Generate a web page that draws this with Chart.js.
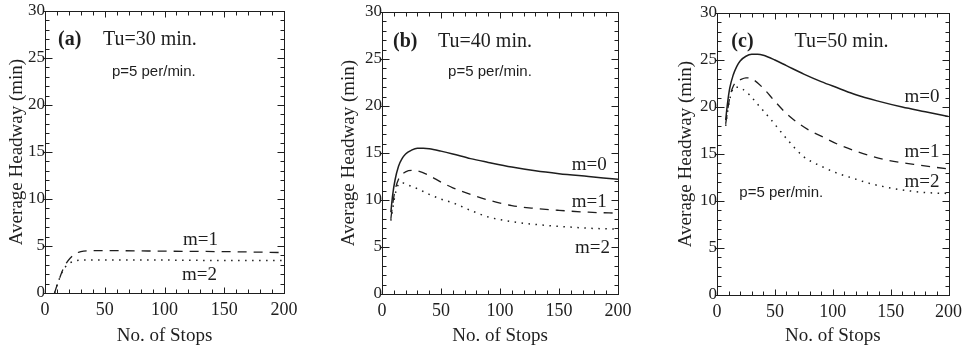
<!DOCTYPE html>
<html>
<head>
<meta charset="UTF-8">
<title>Average Headway vs No. of Stops</title>
<script src="https://cdn.jsdelivr.net/npm/chart.js"></script>
<style>
  body { margin: 0; background: #fff; }
  #wrap { position: relative; width: 968px; height: 351px; }
  #wrap canvas { position: absolute; left: 0; top: 0; }
</style>
</head>
<body>
<div id="wrap">
  <canvas id="chartA" width="968" height="351"></canvas>
  <canvas id="chartB" width="968" height="351"></canvas>
  <canvas id="chartC" width="968" height="351"></canvas>
</div>

<script>
  // ---- data ----
  const panelTags = ['(a)', '(b)', '(c)'];
  const panelTitles = ['Tu=30 min.', 'Tu=40 min.', 'Tu=50 min.'];
  const rateNote = 'p=5 per/min.';
  const seriesNames = ['m=0', 'm=1', 'm=2'];
  const xTicks = [0, 50, 100, 150, 200];
  const yTicks = [0, 5, 10, 15, 20, 25, 30];

  // (a) Tu=30 min.  (no m=0 curve)
  const stopsA_m1 = [8, 10, 12, 15, 18, 21, 25, 30, 40, 60, 100, 150, 200];
  const headA_m1  = [0, 0.8, 1.5, 2.5, 3.2, 3.7, 4.15, 4.4, 4.5, 4.5, 4.45, 4.4, 4.3];
  const stopsA_m2 = [8, 10, 12, 15, 18, 21, 25, 30, 40, 60, 100, 150, 200];
  const headA_m2  = [0, 0.8, 1.5, 2.4, 2.9, 3.2, 3.4, 3.5, 3.5, 3.5, 3.5, 3.45, 3.45];

  // (b) Tu=40 min.
  const stopsB_m0 = [7.5, 9, 11, 14, 17, 20, 25, 30, 35, 40, 50, 60, 75, 90, 110, 130, 150, 175, 200];
  const headB_m0  = [8.7, 10.5, 12.1, 13.6, 14.4, 14.9, 15.3, 15.5, 15.5, 15.45, 15.2, 14.9, 14.4, 14.0, 13.5, 13.1, 12.8, 12.5, 12.2];
  const stopsB_m1 = [7.5, 9, 11, 14, 17, 20, 25, 30, 40, 50, 60, 75, 90, 110, 130, 150, 175, 200];
  const headB_m1  = [8.0, 9.5, 11.0, 12.2, 12.7, 13.0, 13.15, 13.1, 12.6, 11.9, 11.3, 10.6, 10.0, 9.4, 9.1, 8.9, 8.7, 8.6];
  const stopsB_m2 = [7.5, 9, 11, 13, 15, 18, 22, 30, 40, 50, 60, 75, 90, 110, 130, 150, 175, 200];
  const headB_m2  = [7.8, 9.0, 10.5, 11.4, 11.8, 11.8, 11.6, 11.2, 10.6, 10.1, 9.7, 8.9, 8.2, 7.7, 7.4, 7.2, 7.0, 6.9];

  // (c) Tu=50 min.
  const stopsC_m0 = [7.5, 9, 11, 14, 17, 20, 25, 30, 35, 40, 50, 60, 75, 90, 105, 120, 140, 160, 180, 200];
  const headC_m0  = [18.6, 20.3, 22.0, 23.4, 24.3, 24.9, 25.4, 25.6, 25.6, 25.5, 25.0, 24.4, 23.5, 22.7, 22.0, 21.3, 20.6, 20.0, 19.5, 19.0];
  const stopsC_m1 = [7.5, 9, 11, 14, 17, 20, 25, 30, 40, 50, 60, 70, 80, 90, 105, 120, 145, 170, 200];
  const headC_m1  = [18.2, 19.5, 21.0, 22.2, 22.7, 22.9, 23.1, 23.0, 22.0, 20.6, 19.3, 18.3, 17.5, 16.9, 16.0, 15.3, 14.4, 13.9, 13.4];
  const stopsC_m2 = [7.5, 9, 11, 13, 15, 18, 22, 28, 35, 47, 61, 75, 90, 103, 118, 131, 145, 159, 180, 200];
  const headC_m2  = [18.0, 19.4, 20.8, 21.7, 22.1, 22.1, 21.9, 21.3, 20.3, 18.6, 16.5, 14.7, 13.7, 13.0, 12.4, 11.9, 11.5, 11.2, 10.9, 10.8];

  // ---- styling ----
  const INK = '#1e1e1e';
  const SERIF = "'Liberation Serif', 'Times New Roman', serif";
  const SANS = "'Liberation Sans', Arial, sans-serif";
  const lineStyles = [
    { borderDash: [], borderWidth: 1.5 },      // m=0 solid
    { borderDash: [9, 7], borderWidth: 1.3 },  // m=1 dashed
    { borderDash: [1.5, 5.5], borderWidth: 1.5 } // m=2 dotted
  ];

  const toPoints = (xs, ys) => xs.map((x, i) => ({ x: x, y: ys[i] }));

  // box + inward major/minor ticks on all four sides
  const frameTicks = {
    id: 'frameTicks',
    afterDatasetsDraw(chart) {
      const { ctx, chartArea: a, scales: { x, y } } = chart;
      const L = Math.round(a.left) + 0.5, R = Math.round(a.right) + 0.5;
      const T = Math.round(a.top) + 0.5, B = Math.round(a.bottom) + 0.5;
      ctx.save();
      ctx.strokeStyle = INK;
      ctx.lineWidth = 1;
      ctx.strokeRect(L, T, R - L, B - T);
      ctx.beginPath();
      for (let v = 0; v <= 200; v += 10) {
        const px = Math.round(x.getPixelForValue(v)) + 0.5;
        const len = v % 50 === 0 ? 6 : 4;
        ctx.moveTo(px, B); ctx.lineTo(px, B - len);
        ctx.moveTo(px, T); ctx.lineTo(px, T + len);
      }
      for (let v = 0; v <= 30; v += 1) {
        const py = Math.round(y.getPixelForValue(v)) + 0.5;
        const len = v % 5 === 0 ? 7 : 4;
        ctx.moveTo(L - (v % 5 === 0 ? 2 : 0), py); ctx.lineTo(L + len, py);
        ctx.moveTo(R, py); ctx.lineTo(R - len, py);
      }
      ctx.stroke();
      ctx.restore();
    }
  };

  // text notes placed in data coordinates
  const notes = {
    id: 'notes',
    afterDraw(chart, args, opts) {
      const { ctx, scales: { x, y } } = chart;
      ctx.save();
      ctx.fillStyle = INK;
      ctx.textAlign = 'left';
      ctx.textBaseline = 'middle';
      (opts.items || []).forEach(n => {
        ctx.font = n.font;
        ctx.fillText(n.text, x.getPixelForValue(n.x), y.getPixelForValue(n.y));
      });
      ctx.restore();
    }
  };

  function makePanel(id, p) {
    const padLeft = p.yTitleX - 11;
    new Chart(document.getElementById(id), {
      type: 'line',
      data: {
        datasets: p.series.map(s => Object.assign({
          label: seriesNames[s.m],
          data: toPoints(s.xs, s.ys),
          borderColor: INK,
          pointRadius: 0,
          fill: false,
          tension: 0.4,
          cubicInterpolationMode: 'monotone'
        }, lineStyles[s.m]))
      },
      options: {
        responsive: false,
        animation: false,
        events: [],
        layout: { padding: { left: padLeft, right: 968 - p.area.right, top: p.area.top, bottom: 0 } },
        plugins: {
          legend: { display: false },
          tooltip: { enabled: false },
          notes: { items: p.notes }
        },
        scales: {
          x: {
            type: 'linear', min: 0, max: 200,
            afterBuildTicks: s => { s.ticks = xTicks.map(v => ({ value: v })); },
            afterFit: s => { s.height = 351 - p.area.bottom; },
            grid: { display: false, drawTicks: false },
            border: { display: false },
            ticks: { color: INK, padding: 6, maxRotation: 0, font: { family: SERIF, size: 18 } },
            title: { display: true, text: 'No. of Stops', color: INK,
                     font: { family: SERIF, size: 19 }, padding: { top: 0, bottom: 4 } }
          },
          y: {
            min: 0, max: 30,
            afterBuildTicks: s => { s.ticks = yTicks.map(v => ({ value: v })); },
            afterFit: s => { s.width = p.area.left - padLeft; },
            grid: { display: false, drawTicks: false },
            border: { display: false },
            ticks: { color: INK, padding: 0, font: { family: SERIF, size: 17 } },
            title: { display: true, text: 'Average Headway (min)', color: INK,
                     font: { family: SERIF, size: 19 }, padding: 0 }
          }
        }
      },
      plugins: [frameTicks, notes]
    });
  }

  const tagFont = 'bold 20px ' + SERIF;
  const titleFont = '20px ' + SERIF;
  const noteFont = '15px ' + SANS;
  const mFont = '19px ' + SERIF;

  makePanel('chartA', {
    area: { left: 45, right: 284, top: 11, bottom: 293 },
    yTitleX: 17,
    series: [
      { m: 1, xs: stopsA_m1, ys: headA_m1 },
      { m: 2, xs: stopsA_m2, ys: headA_m2 }
    ],
    notes: [
      { text: panelTags[0], x: 10.9, y: 26.9, font: tagFont },
      { text: panelTitles[0], x: 48.5, y: 26.9, font: titleFont },
      { text: rateNote, x: 56, y: 23.5, font: noteFont },
      { text: seriesNames[1], x: 115.5, y: 5.6, font: mFont },
      { text: seriesNames[2], x: 114.6, y: 1.9, font: mFont }
    ]
  });

  makePanel('chartB', {
    area: { left: 382, right: 618, top: 12, bottom: 294 },
    yTitleX: 349,
    series: [
      { m: 0, xs: stopsB_m0, ys: headB_m0 },
      { m: 1, xs: stopsB_m1, ys: headB_m1 },
      { m: 2, xs: stopsB_m2, ys: headB_m2 }
    ],
    notes: [
      { text: panelTags[1], x: 9.3, y: 26.8, font: tagFont },
      { text: panelTitles[1], x: 47.5, y: 26.8, font: titleFont },
      { text: rateNote, x: 56, y: 23.6, font: noteFont },
      { text: seriesNames[0], x: 160.8, y: 13.7, font: mFont },
      { text: seriesNames[1], x: 160.8, y: 9.8, font: mFont },
      { text: seriesNames[2], x: 163.6, y: 4.9, font: mFont }
    ]
  });

  makePanel('chartC', {
    area: { left: 717, right: 955, top: 13, bottom: 295 },
    yTitleX: 686,
    series: [
      { m: 0, xs: stopsC_m0, ys: headC_m0 },
      { m: 1, xs: stopsC_m1, ys: headC_m1 },
      { m: 2, xs: stopsC_m2, ys: headC_m2 }
    ],
    notes: [
      { text: panelTags[2], x: 12.4, y: 26.9, font: tagFont },
      { text: panelTitles[2], x: 67, y: 26.9, font: titleFont },
      { text: rateNote, x: 19.3, y: 10.9, font: noteFont },
      { text: seriesNames[0], x: 162, y: 21.1, font: mFont },
      { text: seriesNames[1], x: 162, y: 15.2, font: mFont },
      { text: seriesNames[2], x: 162, y: 12.05, font: mFont }
    ]
  });
</script>
</body>
</html>
